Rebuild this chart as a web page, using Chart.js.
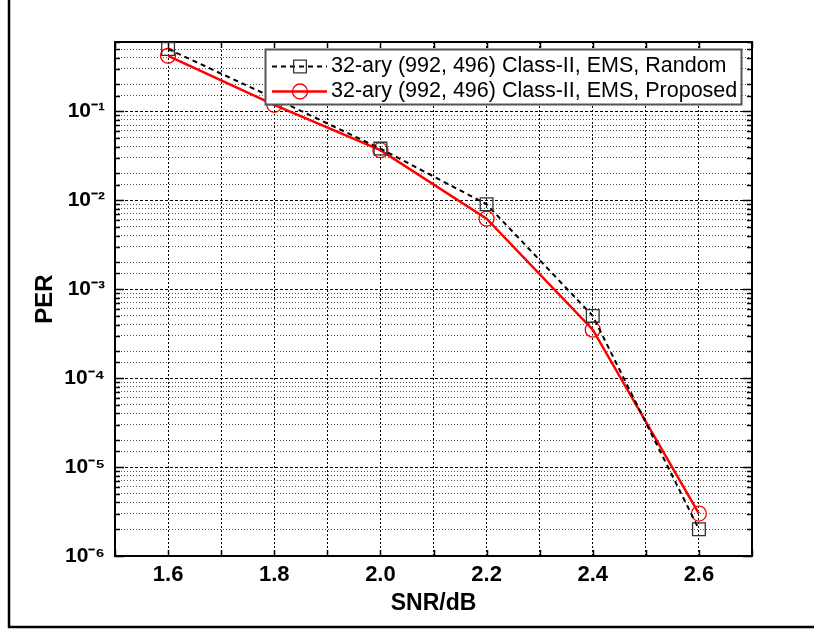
<!DOCTYPE html>
<html>
<head>
<meta charset="utf-8">
<script src="https://cdn.jsdelivr.net/npm/chart.js@4.4.0/dist/chart.umd.min.js"></script>
<style>
  html, body { margin: 0; padding: 0; background: #fff; }
  canvas { display: block; }
</style>
</head>
<body>
<canvas id="perChart" width="814" height="630"></canvas>
<script>
// data
const snr = [1.6, 1.8, 2.0, 2.2, 2.4, 2.6];
const perRandom = [0.5, 0.14, 0.038, 0.009, 5e-4, 2e-6];
const perProposed = [0.42, 0.118, 0.0365, 0.0062, 3.5e-4, 3e-6];
const seriesLabels = [
    '32-ary (992, 496) Class-II, EMS, Random',
    '32-ary (992, 496) Class-II, EMS, Proposed'
];
const xTickLabels = ['1.6', '1.8', '2.0', '2.2', '2.4', '2.6'];
const yDecadeLabels = ['10⁻⁶', '10⁻⁵', '10⁻⁴', '10⁻³', '10⁻²', '10⁻¹'];

const FONT = "Arial, 'Liberation Sans', sans-serif";
Chart.defaults.font.family = FONT;
Chart.defaults.color = '#000';

const isDecade = v => Math.abs(Math.log10(v) - Math.round(Math.log10(v))) < 1e-6;

// short solid ticks pointing inwards on all four sides + plot box
const innerTicks = {
    id: 'innerTicks',
    beforeDatasetsDraw(chart) {
        const { ctx, chartArea: { left, right, top, bottom }, scales: { x, y } } = chart;
        ctx.save();
        ctx.strokeStyle = '#000';
        ctx.lineWidth = 1.5;
        ctx.beginPath();
        y.ticks.forEach(t => {
            const py = Math.round(y.getPixelForValue(t.value)) + 0.5;
            const len = isDecade(t.value) ? 9 : 5;
            ctx.moveTo(left, py); ctx.lineTo(left + len, py);
            ctx.moveTo(right, py); ctx.lineTo(right - len, py);
        });
        x.ticks.forEach(t => {
            const px = Math.round(x.getPixelForValue(t.value)) + 0.5;
            ctx.moveTo(px, bottom); ctx.lineTo(px, bottom - 6);
            ctx.moveTo(px, top); ctx.lineTo(px, top + 6);
        });
        ctx.stroke();
        ctx.lineWidth = 2;
        ctx.strokeRect(left, top, right - left, bottom - top);
        ctx.restore();
    }
};

// boxed legend in the upper right of the plot
const boxLegend = {
    id: 'boxLegend',
    afterDatasetsDraw(chart) {
        const { ctx } = chart;
        const bx = 265.5, by = 49.5, bw = 476, bh = 55;
        ctx.save();
        ctx.fillStyle = '#fff';
        ctx.fillRect(bx, by, bw, bh);
        ctx.strokeStyle = '#555';
        ctx.lineWidth = 2;
        ctx.strokeRect(bx, by, bw, bh);

        chart.data.datasets.forEach((ds, i) => {
            const ry = 66.5 + i * 25;
            ctx.strokeStyle = ds.borderColor;
            ctx.lineWidth = ds.borderWidth;
            ctx.setLineDash(ds.borderDash || []);
            ctx.beginPath();
            ctx.moveTo(272, ry); ctx.lineTo(327, ry);
            ctx.stroke();
            ctx.setLineDash([]);
            ctx.lineWidth = ds.pointBorderWidth;
            ctx.strokeStyle = ds.pointBorderColor;
            ctx.fillStyle = 'rgba(0,0,0,0)';
            Chart.helpers.drawPoint(ctx, {
                pointStyle: ds.pointStyle, radius: ds.pointRadius, rotation: 0, borderWidth: ds.pointBorderWidth
            }, 300, ry);
            ctx.fillStyle = '#000';
            ctx.font = '21.5px ' + FONT;
            ctx.textBaseline = 'middle';
            ctx.fillText(ds.label, 331, ry);
        });
        ctx.restore();
    }
};

// outer figure frame (left and bottom edges only)
const figureFrame = {
    id: 'figureFrame',
    afterDraw(chart) {
        const { ctx } = chart;
        ctx.save();
        ctx.strokeStyle = '#000';
        ctx.lineWidth = 2.5;
        ctx.beginPath();
        ctx.moveTo(9, 0); ctx.lineTo(9, 627);
        ctx.lineTo(814, 627);
        ctx.stroke();
        ctx.restore();
    }
};

new Chart(document.getElementById('perChart'), {
    type: 'line',
    data: {
        datasets: [{
            label: seriesLabels[0],
            data: snr.map((s, i) => ({ x: s, y: perRandom[i] })),
            borderColor: '#000',
            borderWidth: 2,
            borderDash: [5, 4],
            pointStyle: 'rect',
            pointRadius: 9,
            pointBorderWidth: 1.3,
            pointBorderColor: '#333',
            pointBackgroundColor: 'rgba(0,0,0,0)',
            tension: 0
        }, {
            label: seriesLabels[1],
            data: snr.map((s, i) => ({ x: s, y: perProposed[i] })),
            borderColor: '#ff0000',
            borderWidth: 2.5,
            pointStyle: 'circle',
            pointRadius: 7.5,
            pointBorderWidth: 1.3,
            pointBorderColor: '#ff0000',
            pointBackgroundColor: 'rgba(0,0,0,0)',
            tension: 0
        }]
    },
    options: {
        responsive: false,
        animation: false,
        layout: { padding: { top: 42, right: 62, left: 0, bottom: 0 } },
        plugins: {
            legend: { display: false },
            tooltip: { enabled: false }
        },
        scales: {
            x: {
                type: 'linear',
                min: 1.5,
                max: 2.7,
                afterFit: s => { s.height = 74; },
                ticks: {
                    stepSize: 0.1,
                    autoSkip: false,
                    maxRotation: 0,
                    padding: 6,
                    font: { size: 22, weight: 'bold' },
                    callback: v => {
                        const t = (Math.round(v * 10) / 10).toFixed(1);
                        return xTickLabels.includes(t) ? t : '';
                    }
                },
                grid: { color: '#000', lineWidth: 1, drawTicks: false },
                border: { display: false, dash: [2, 2] },
                title: {
                    display: true,
                    text: 'SNR/dB',
                    font: { size: 23, weight: 'bold' },
                    padding: { top: 0, bottom: 13 }
                }
            },
            y: {
                type: 'logarithmic',
                min: 1e-6,
                max: 0.6,
                afterFit: s => { s.width = 115; },
                ticks: {
                    autoSkip: false,
                    padding: 10,
                    font: { size: 21, weight: 'bold' },
                    callback: v => isDecade(v) ? (yDecadeLabels[Math.round(Math.log10(v)) + 6] || '') : ''
                },
                grid: {
                    drawTicks: false,
                    lineWidth: 1,
                    color: c => isDecade(c.tick.value) ? '#000' : '#555'
                },
                border: {
                    display: false,
                    dash: c => (c.tick && isDecade(c.tick.value)) ? [3, 2] : [1, 2]
                },
                title: {
                    display: true,
                    text: 'PER',
                    font: { size: 24, weight: 'bold' },
                    padding: { top: 31, bottom: 0 }
                }
            }
        }
    },
    plugins: [innerTicks, boxLegend, figureFrame]
});
</script>
</body>
</html>
